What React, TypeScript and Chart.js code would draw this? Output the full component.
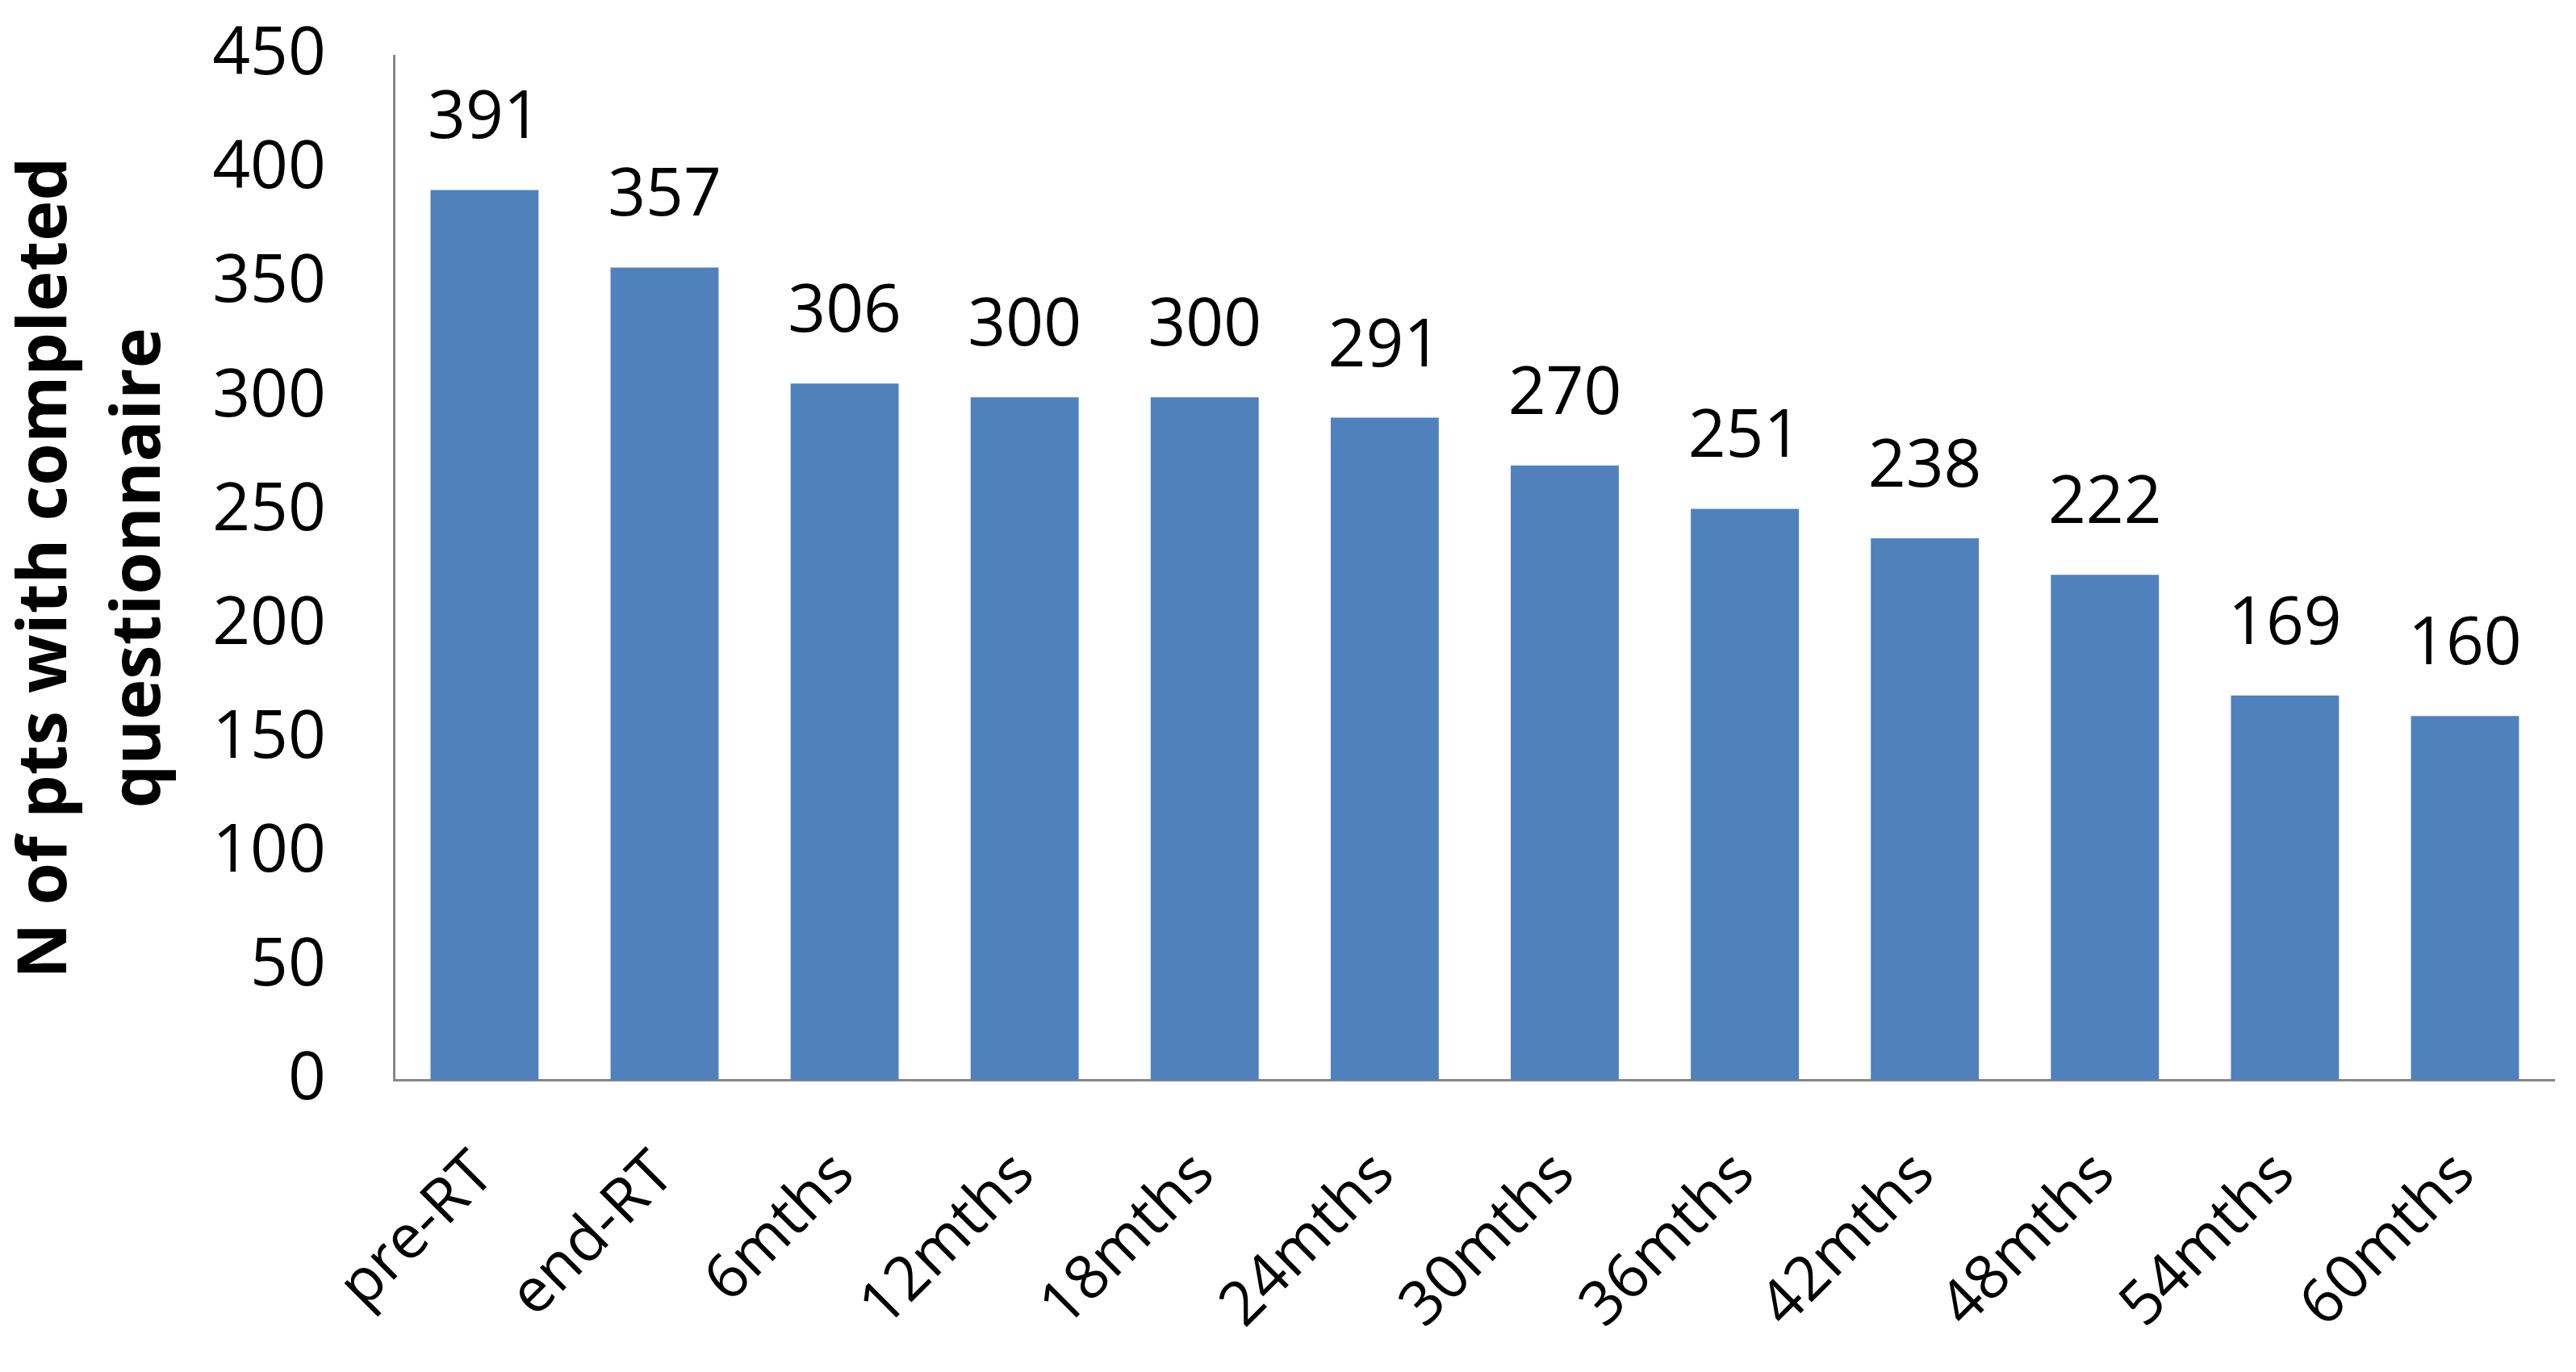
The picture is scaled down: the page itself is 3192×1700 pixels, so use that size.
import React, { useEffect, useRef } from "react";
import { Chart, registerables } from "chart.js";

Chart.register(...registerables);

const categories = ["pre-RT", "end-RT", "6mths", "12mths", "18mths", "24mths", "30mths", "36mths", "42mths", "48mths", "54mths", "60mths"];
const counts = [391, 357, 306, 300, 300, 291, 270, 251, 238, 222, 169, 160];
const yTitle = ["N of pts with completed", "questionnaire"];
const yMin = 0;
const yMax = 450;
const yStep = 50;

const BAR_COLOR = "#4F81BD";
const AXIS_COLOR = "#878787";
const FONT = "'Open Sans', 'Liberation Sans', sans-serif";

const valueLabels = {
  id: "valueLabels",
  afterDatasetsDraw(chart: any) {
    const ctx = chart.ctx;
    const meta = chart.getDatasetMeta(0);
    ctx.save();
    ctx.font = `82px ${FONT}`;
    ctx.fillStyle = "#000";
    ctx.textAlign = "center";
    ctx.textBaseline = "alphabetic";
    meta.data.forEach((bar: any, i: number) => {
      const v = chart.data.datasets[0].data[i];
      ctx.fillText(String(v), bar.x, bar.y - 64);
    });
    ctx.restore();
  },
};

export default function App() {
  const ref = useRef<HTMLCanvasElement | null>(null);
  useEffect(() => {
    document.body.style.margin = "0";
    const canvas = ref.current!;
    const chart = new Chart(canvas, {
      type: "bar",
      data: {
        labels: categories,
        datasets: [
          {
            data: counts,
            backgroundColor: BAR_COLOR,
            borderWidth: 0,
            categoryPercentage: 1,
            barPercentage: 0.6,
          },
        ],
      },
      options: {
        animation: false,
        responsive: false,
        maintainAspectRatio: false,
        layout: { padding: { left: 0, top: 69, right: 26, bottom: -36 } },
        plugins: {
          legend: { display: false },
          tooltip: { enabled: false },
        },
        scales: {
          x: {
            grid: { display: false, drawTicks: false },
            border: { display: true, color: AXIS_COLOR, width: 3 },
            ticks: {
              color: "#000",
              font: { family: FONT, size: 76 },
              minRotation: 45,
              maxRotation: 45,
              padding: 72,
              autoSkip: false,
            },
          },
          y: {
            min: yMin,
            max: yMax,
            grid: { display: false, drawTicks: false },
            border: { display: true, color: AXIS_COLOR, width: 3 },
            ticks: {
              stepSize: yStep,
              color: "#000",
              font: { family: FONT, size: 82 },
              padding: 85,
            },
            afterFit(scale: any) {
              scale.paddingTop = 40;
            },
            title: {
              display: true,
              text: yTitle,
              color: "#000",
              font: { family: FONT, size: 85, weight: "bold", lineHeight: 1.36 },
              padding: { top: 0, bottom: -53 },
            },
          },
        },
      },
      plugins: [valueLabels],
    });
    return () => chart.destroy();
  }, []);
  return (
    <div style={{ width: 3192, height: 1700 }}>
      <canvas ref={ref} width={3192} height={1700} style={{ display: "block", width: 3192, height: 1700 }} />
    </div>
  );
}
